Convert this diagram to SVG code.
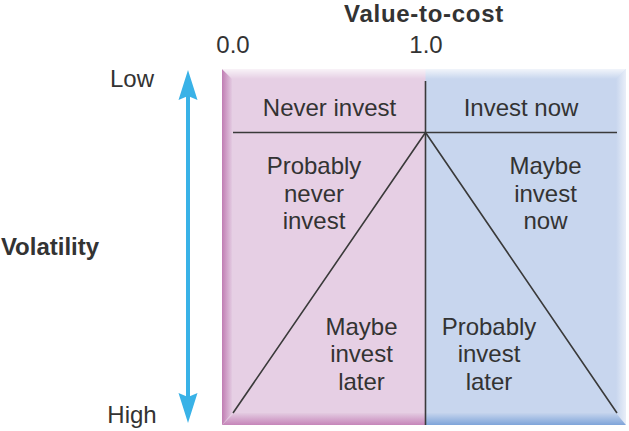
<svg xmlns="http://www.w3.org/2000/svg" width="629" height="431" viewBox="0 0 629 431">
<defs>
<style>
text{font-family:"Liberation Sans",Arial,Helvetica,sans-serif;font-size:24px;fill:#333;text-anchor:middle}
.b{font-weight:bold}
.t{letter-spacing:0.7px}
.ln{stroke:#3a3a3a;stroke-width:1.6;fill:none}
</style>
<linearGradient id="gl" x1="0" y1="0" x2="1" y2="0"><stop offset="0" stop-color="#c07db3"/><stop offset="1" stop-color="#e3cae1"/></linearGradient>
<linearGradient id="gt" x1="0" y1="0" x2="0" y2="1"><stop offset="0" stop-color="#fff" stop-opacity="0.75"/><stop offset="1" stop-color="#fff" stop-opacity="0"/></linearGradient>
<linearGradient id="gr" x1="0" y1="0" x2="1" y2="0"><stop offset="0" stop-color="#fff" stop-opacity="0"/><stop offset="1" stop-color="#fff" stop-opacity="0.6"/></linearGradient>
<linearGradient id="gbp" x1="0" y1="0" x2="0" y2="1"><stop offset="0" stop-color="#e3cbe1"/><stop offset="1" stop-color="#c585b9"/></linearGradient>
<linearGradient id="gbb" x1="0" y1="0" x2="0" y2="1"><stop offset="0" stop-color="#c5d4ed"/><stop offset="1" stop-color="#7ea4d9"/></linearGradient>
<marker id="ah" markerUnits="userSpaceOnUse" viewBox="0 0 30 20" markerWidth="30" markerHeight="20" refX="12" refY="10" orient="auto-start-reverse">
<path d="M0,0.5 L30,10 L0,19.5 L4,10 z" fill="#39b2e7"/>
</marker>
</defs>
<g id="panel">
<rect x="222" y="69" width="204" height="356" fill="#e6cfe4"/>
<rect x="425.5" y="69" width="200.5" height="356" fill="#c8d6ee"/>
<polygon points="222,425 425.5,425 425.5,413 234,413" fill="url(#gbp)"/>
<polygon points="425.5,425 626,425 616,413 425.5,413" fill="url(#gbb)"/>
<polygon points="222,69 232,79 232,413 222,425" fill="url(#gl)"/>
<polygon points="222,69 626,69 616,79 232,79" fill="url(#gt)"/>
<polygon points="626,69 626,425 616,413 616,79" fill="url(#gr)"/>
</g>
<g id="connectors">
<line class="ln" x1="425.5" y1="81" x2="425.5" y2="425"/>
<line class="ln" x1="233" y1="132.5" x2="617" y2="132.5"/>
<polyline class="ln" points="233,413 425.5,132.5 617,413"/>
<line x1="188" y1="88" x2="188" y2="405" stroke="#39b2e7" stroke-width="4" marker-start="url(#ah)" marker-end="url(#ah)"/>
</g>
<g id="axis-x">
<text class="b t" x="424" y="22">Value-to-cost</text>
<text x="233" y="53">0.0</text>
<text x="426" y="53">1.0</text>
</g>
<g id="axis-y">
<text x="132" y="87">Low</text>
<text x="132" y="423">High</text>
<text class="b" x="50" y="255">Volatility</text>
</g>
<g id="never-invest"><text x="329.5" y="116">Never invest</text></g>
<g id="invest-now"><text x="521" y="116">Invest now</text></g>
<g id="probably-never-invest"><text x="314" y="174">Probably</text><text x="314" y="201.5">never</text><text x="314" y="229">invest</text></g>
<g id="maybe-invest-now"><text x="545.5" y="174">Maybe</text><text x="545.5" y="201.5">invest</text><text x="545.5" y="229">now</text></g>
<g id="maybe-invest-later"><text x="361.5" y="334.5">Maybe</text><text x="361.5" y="362">invest</text><text x="361.5" y="390">later</text></g>
<g id="probably-invest-later"><text x="489" y="334.5">Probably</text><text x="489" y="362">invest</text><text x="489" y="390">later</text></g>
</svg>
